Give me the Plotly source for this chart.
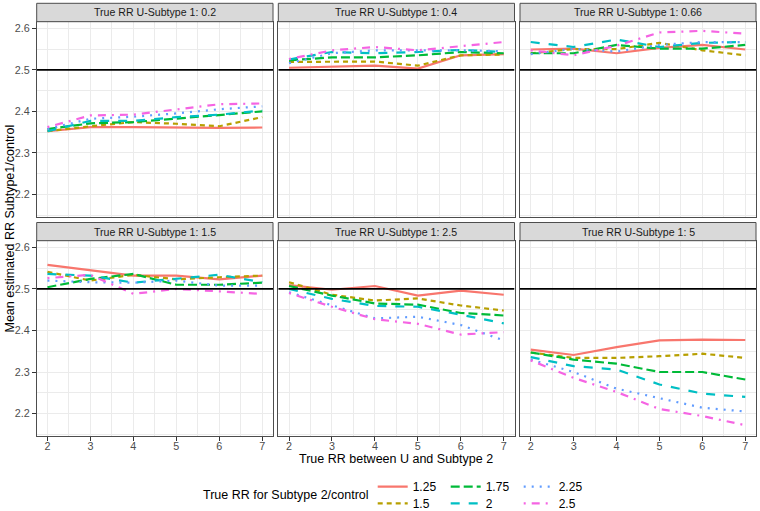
import plotly.graph_objects as go

W, H = 760, 511

x_vals = [2, 3, 4, 5, 6, 7]
series_labels = ["1.25", "1.5", "1.75", "2", "2.25", "2.5"]
panel_titles = [
    "True RR U-Subtype 1: 0.2", "True RR U-Subtype 1: 0.4", "True RR U-Subtype 1: 0.66",
    "True RR U-Subtype 1: 1.5", "True RR U-Subtype 1: 2.5", "True RR U-Subtype 1: 5",
]
x_ticks = [2, 3, 4, 5, 6, 7]
y_ticks = [2.2, 2.3, 2.4, 2.5, 2.6]
reference_value = 2.5

# each panel: one list per series (1.25, 1.5, 1.75, 2, 2.25, 2.5)
panel_u02 = [
    [2.352, 2.362, 2.362, 2.361, 2.360, 2.361],
    [2.352, 2.364, 2.374, 2.370, 2.364, 2.386],
    [2.357, 2.371, 2.374, 2.382, 2.391, 2.400],
    [2.352, 2.377, 2.377, 2.386, 2.392, 2.402],
    [2.357, 2.382, 2.387, 2.395, 2.405, 2.412],
    [2.362, 2.390, 2.392, 2.404, 2.417, 2.419],
]
panel_u04 = [
    [2.505, 2.508, 2.510, 2.503, 2.535, 2.538],
    [2.519, 2.520, 2.520, 2.510, 2.535, 2.537],
    [2.523, 2.530, 2.530, 2.535, 2.543, 2.540],
    [2.525, 2.543, 2.540, 2.543, 2.548, 2.543],
    [2.516, 2.540, 2.547, 2.547, 2.547, 2.545],
    [2.526, 2.547, 2.555, 2.547, 2.557, 2.567],
]
panel_u066 = [
    [2.549, 2.551, 2.540, 2.553, 2.560, 2.549],
    [2.540, 2.550, 2.550, 2.565, 2.547, 2.535],
    [2.540, 2.540, 2.560, 2.551, 2.551, 2.560],
    [2.567, 2.555, 2.573, 2.555, 2.565, 2.567],
    [2.538, 2.551, 2.544, 2.560, 2.567, 2.567],
    [2.547, 2.535, 2.558, 2.590, 2.594, 2.587],
]
panel_u15 = [
    [2.558, 2.545, 2.532, 2.532, 2.523, 2.532],
    [2.541, 2.520, 2.534, 2.523, 2.528, 2.532],
    [2.504, 2.524, 2.536, 2.510, 2.510, 2.515],
    [2.536, 2.532, 2.515, 2.524, 2.534, 2.516],
    [2.520, 2.516, 2.515, 2.520, 2.508, 2.508],
    [2.526, 2.534, 2.488, 2.500, 2.494, 2.488],
]
panel_u25 = [
    [2.509, 2.498, 2.507, 2.484, 2.496, 2.486],
    [2.516, 2.486, 2.472, 2.477, 2.460, 2.448],
    [2.507, 2.484, 2.465, 2.462, 2.442, 2.436],
    [2.500, 2.476, 2.459, 2.457, 2.438, 2.417],
    [2.492, 2.461, 2.429, 2.433, 2.413, 2.376],
    [2.490, 2.457, 2.427, 2.416, 2.390, 2.396],
]
panel_u5 = [
    [2.354, 2.341, 2.360, 2.376, 2.378, 2.377],
    [2.347, 2.334, 2.334, 2.338, 2.344, 2.334],
    [2.347, 2.330, 2.320, 2.300, 2.300, 2.282],
    [2.336, 2.314, 2.306, 2.270, 2.248, 2.240],
    [2.330, 2.300, 2.260, 2.237, 2.214, 2.205],
    [2.328, 2.286, 2.252, 2.211, 2.194, 2.172],
]
panels = [panel_u02, panel_u04, panel_u066, panel_u15, panel_u25, panel_u5]

colors = ["#F8766D", "#B79F00", "#00BA38", "#00BFC4", "#619CFF", "#F564E3"]
dashes = ["solid", "5px,4px", "9px,4px", "9px,9px", "2px,6px", "2px,6px,8px,6px"]
legend_rows = ["legend", "legend2", "legend", "legend2", "legend", "legend2"]

# layout geometry in pixels
col_px = [(36.7, 273.0), (278.3, 514.5), (520.0, 756.0)]
row_px = [(21.7, 216.7), (240.7, 436.0)]
strip_px = [(3.3, 21.7), (222.5, 240.7)]

def px_x(v):
    return v / W

def px_y(v):
    return 1 - v / H

fig = go.Figure()
layout = dict(
    width=W, height=H, margin=dict(l=0, r=0, t=0, b=0, autoexpand=False),
    paper_bgcolor="white", plot_bgcolor="white",
    font=dict(family="Liberation Sans, Arial, sans-serif", color="#1A1A1A"),
    shapes=[], annotations=[],
)

border_col = "#4D4D4D"
grid_col = "#EBEBEB"

for i, (title, data) in enumerate(zip(panel_titles, panels)):
    r, c = divmod(i, 3)
    n = i + 1
    xa = "x" if n == 1 else f"x{n}"
    ya = "y" if n == 1 else f"y{n}"
    for s, (lab, ys) in enumerate(zip(series_labels, data)):
        fig.add_trace(go.Scatter(
            x=x_vals, y=ys, mode="lines", name=lab,
            line=dict(color=colors[s], width=2.2, dash=dashes[s]),
            xaxis=xa, yaxis=ya, legend=legend_rows[s],
            showlegend=(i == 0), hoverinfo="skip",
        ))
    fig.add_trace(go.Scatter(
        x=[1.75, 7.25], y=[reference_value, reference_value], mode="lines",
        line=dict(color="black", width=1.9), xaxis=xa, yaxis=ya,
        showlegend=False, hoverinfo="skip",
    ))
    bottom = (r == 1)
    left = (c == 0)
    layout["xaxis" if n == 1 else f"xaxis{n}"] = dict(
        domain=[px_x(col_px[c][0]), px_x(col_px[c][1])],
        range=[1.75, 7.25], anchor=ya,
        tickvals=x_ticks, showgrid=True, gridcolor=grid_col, gridwidth=1.1,
        minor=dict(tickvals=[2.5, 3.5, 4.5, 5.5, 6.5], showgrid=True,
                   gridcolor=grid_col, gridwidth=0.55),
        zeroline=False, showline=True, mirror=True, linecolor=border_col, linewidth=1,
        ticks="outside" if bottom else "", ticklen=3.7, tickwidth=1, tickcolor="#333333",
        showticklabels=bottom, tickfont=dict(size=10.8, color="#4D4D4D"),
        ticklabelstandoff=-4,
        fixedrange=True,
    )
    layout["yaxis" if n == 1 else f"yaxis{n}"] = dict(
        domain=[px_y(row_px[r][1]), px_y(row_px[r][0])],
        range=[2.146, 2.616], anchor=xa,
        tickvals=y_ticks, showgrid=True, gridcolor=grid_col, gridwidth=1.1,
        minor=dict(tickvals=[2.15, 2.25, 2.35, 2.45, 2.55], showgrid=True,
                   gridcolor=grid_col, gridwidth=0.55),
        zeroline=False, showline=True, mirror=True, linecolor=border_col, linewidth=1,
        ticks="outside" if left else "", ticklen=3.7, tickwidth=1, tickcolor="#333333",
        showticklabels=left, tickfont=dict(size=10.8, color="#4D4D4D"),
        fixedrange=True,
    )
    # strip
    layout["shapes"].append(dict(
        type="rect", xref="paper", yref="paper",
        x0=px_x(col_px[c][0]), x1=px_x(col_px[c][1]),
        y0=px_y(strip_px[r][1]), y1=px_y(strip_px[r][0]),
        fillcolor="#D9D9D9", line=dict(color=border_col, width=1), layer="above",
    ))
    layout["annotations"].append(dict(
        text=title, xref="paper", yref="paper",
        x=px_x((col_px[c][0] + col_px[c][1]) / 2),
        y=px_y((strip_px[r][0] + strip_px[r][1]) / 2),
        xanchor="center", yanchor="middle", showarrow=False,
        font=dict(size=10.6, color="#1A1A1A"),
    ))

# axis titles
layout["annotations"].append(dict(
    text="True RR between U and Subtype 2", xref="paper", yref="paper",
    x=px_x(396.4), y=px_y(458.5), xanchor="center", yanchor="middle",
    showarrow=False, font=dict(size=12.5, color="black"),
))
layout["annotations"].append(dict(
    text="Mean estimated RR Subtype1/control", xref="paper", yref="paper",
    x=px_x(9.5), y=px_y(229), xanchor="center", yanchor="middle", textangle=-90,
    showarrow=False, font=dict(size=12.5, color="black"),
))
layout["annotations"].append(dict(
    text="True RR for Subtype 2/control", xref="paper", yref="paper",
    x=px_x(200.7), y=px_y(495), xanchor="left", yanchor="middle",
    showarrow=False, font=dict(size=12.5, color="black"),
))

leg_common = dict(orientation="h", xanchor="left", yanchor="middle",
                  entrywidth=28, entrywidthmode="pixels",
                  font=dict(size=12, color="black"), bgcolor="rgba(0,0,0,0)",
                  borderwidth=0, tracegroupgap=0, itemclick=False, itemdoubleclick=False)
layout["legend"] = dict(x=px_x(372.7), y=px_y(486.7), **leg_common)
layout["legend2"] = dict(x=px_x(372.7), y=px_y(503.3), **leg_common)

fig.update_layout(**layout)
fig.write_html("out.html", config={"displayModeBar": False},
               post_script="document.body.style.margin='0px';")
